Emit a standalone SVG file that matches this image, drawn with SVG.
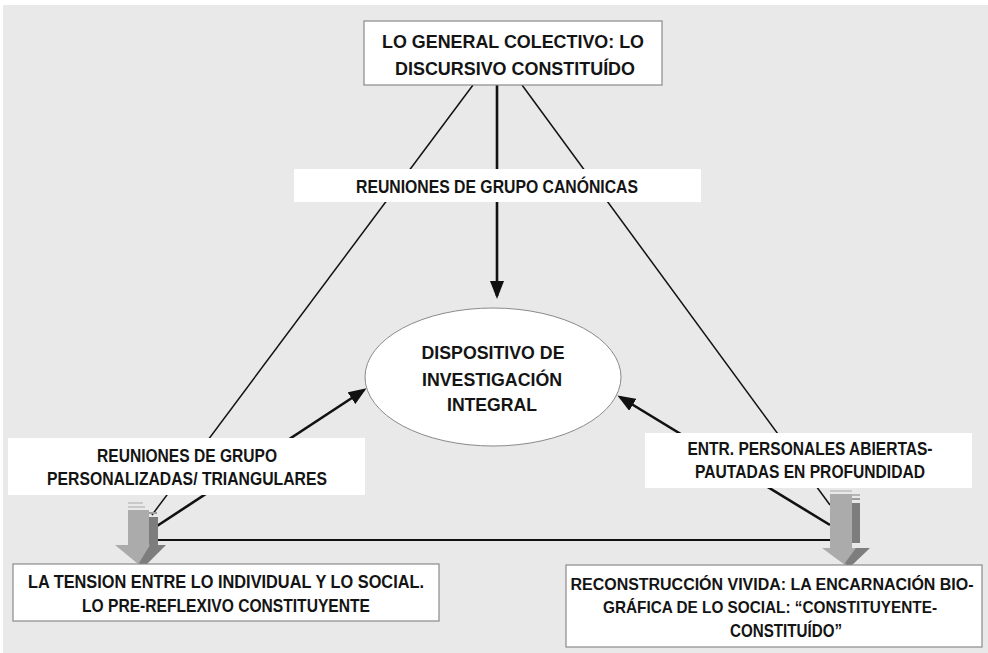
<svg xmlns="http://www.w3.org/2000/svg" width="988" height="653" viewBox="0 0 988 653">
<defs>
<style>
.t{font-family:"Liberation Sans",Arial,sans-serif;font-weight:bold;font-size:19px;fill:#141414;text-anchor:middle}
.s{font-size:17px}
.xs{font-size:16px}
.box{fill:#fff;stroke:#8a8a8a;stroke-width:1.2}
.lbl{fill:#fff;stroke:none}
.tri{stroke:#111;stroke-width:1.5;fill:none}
.arr{stroke:#111;stroke-width:2.6;fill:none;marker-end:url(#ah)}
.lite{fill:#ababab}
.dark{fill:#7d7d7d}
.str{fill:#c9c9c9}
</style>
<marker id="ah" markerUnits="userSpaceOnUse" markerWidth="18" markerHeight="14" refX="15" refY="7" orient="auto" viewBox="0 0 18 14">
<path d="M0,0 L18,7 L0,14 z" fill="#111"/>
</marker>
</defs>
<rect x="0" y="0" width="988" height="653" fill="#fff"/>
<rect x="3" y="5" width="985" height="648" fill="#e9e9e9"/>

<g id="connectors">
<line class="tri" x1="473" y1="85" x2="152" y2="515"/>
<line class="tri" x1="522" y1="85" x2="830" y2="505"/>
<line class="tri" x1="157" y1="540" x2="830" y2="540" style="stroke-width:2.2"/>
<line class="arr" x1="497" y1="85" x2="497" y2="296"/>
<line class="arr" x1="157" y1="526" x2="364" y2="390"/>
<line class="arr" x1="830" y1="525" x2="620" y2="397"/>
</g>

<g id="arrow-left">
<rect class="str" x="128" y="502" width="15" height="2"/>
<rect class="str" x="128" y="506" width="17" height="2"/>
<rect class="lite" x="128" y="510" width="21" height="36"/>
<rect x="149" y="512" width="8" height="2" fill="#9c9c9c"/>
<rect class="dark" x="149" y="517" width="9" height="29"/>
<polygon class="lite" points="115,545 158,545 143,568"/>
<polygon class="dark" points="150,545 166,545 143,568 139,563"/>
</g>

<g id="arrow-right">
<rect class="str" x="830" y="485" width="20" height="2"/>
<rect class="str" x="830" y="490" width="22" height="2"/>
<rect class="lite" x="830" y="494" width="22" height="55"/>
<rect x="852" y="494" width="8" height="2" fill="#b5b5b5"/>
<rect x="852" y="498" width="8" height="2" fill="#9c9c9c"/>
<rect class="dark" x="852" y="503" width="8" height="40"/>
<polygon class="lite" points="822,548 862,548 849,568"/>
<polygon class="dark" points="856,548 870,548 849,568 845,563"/>
</g>

<g id="node-general">
<rect class="box" x="364" y="21" width="298" height="64"/>
<text class="t" x="513" y="48" textLength="262" lengthAdjust="spacingAndGlyphs">LO GENERAL COLECTIVO: LO</text>
<text class="t" x="515" y="75" textLength="240" lengthAdjust="spacingAndGlyphs">DISCURSIVO CONSTITUÍDO</text>
</g>

<g id="label-canonicas">
<rect class="lbl" x="294" y="169" width="407" height="33"/>
<text class="t" x="497" y="193" textLength="282" lengthAdjust="spacingAndGlyphs">REUNIONES DE GRUPO CANÓNICAS</text>
</g>

<g id="node-dispositivo">
<ellipse cx="493" cy="377" rx="128" ry="69" fill="#fff" stroke="#8a8a8a" stroke-width="1"/>
<text class="t" x="493" y="359" textLength="143" lengthAdjust="spacingAndGlyphs">DISPOSITIVO DE</text>
<text class="t" x="492" y="386" textLength="140" lengthAdjust="spacingAndGlyphs">INVESTIGACIÓN</text>
<text class="t" x="492" y="411" textLength="90" lengthAdjust="spacingAndGlyphs">INTEGRAL</text>
</g>

<g id="label-personalizadas">
<rect class="lbl" x="8" y="438" width="357" height="57"/>
<text class="t" x="187" y="462" textLength="180" lengthAdjust="spacingAndGlyphs">REUNIONES DE GRUPO</text>
<text class="t" x="187" y="485" textLength="280" lengthAdjust="spacingAndGlyphs">PERSONALIZADAS/ TRIANGULARES</text>
</g>

<g id="label-entrevistas">
<rect class="lbl" x="645" y="433" width="327" height="55"/>
<text class="t" x="810" y="455" textLength="245" lengthAdjust="spacingAndGlyphs">ENTR. PERSONALES ABIERTAS-</text>
<text class="t" x="810" y="478" textLength="230" lengthAdjust="spacingAndGlyphs">PAUTADAS EN PROFUNDIDAD</text>
</g>

<g id="node-tension">
<rect class="box" x="13" y="564" width="426" height="57"/>
<text class="t" x="226" y="588" textLength="396" lengthAdjust="spacingAndGlyphs">LA TENSION ENTRE LO INDIVIDUAL Y LO SOCIAL.</text>
<text class="t" x="226" y="612" textLength="288" lengthAdjust="spacingAndGlyphs">LO PRE-REFLEXIVO CONSTITUYENTE</text>
</g>

<g id="node-reconstruccion">
<rect class="box" x="566" y="565" width="416" height="82"/>
<text class="t xs" x="772" y="590" textLength="403" lengthAdjust="spacingAndGlyphs">RECONSTRUCCIÓN VIVIDA: LA ENCARNACIÓN BIO-</text>
<text class="t s" x="770" y="613" textLength="334" lengthAdjust="spacingAndGlyphs">GRÁFICA DE LO SOCIAL: “CONSTITUYENTE-</text>
<text class="t" x="786" y="637" textLength="112" lengthAdjust="spacingAndGlyphs">CONSTITUÍDO”</text>
</g>
</svg>
